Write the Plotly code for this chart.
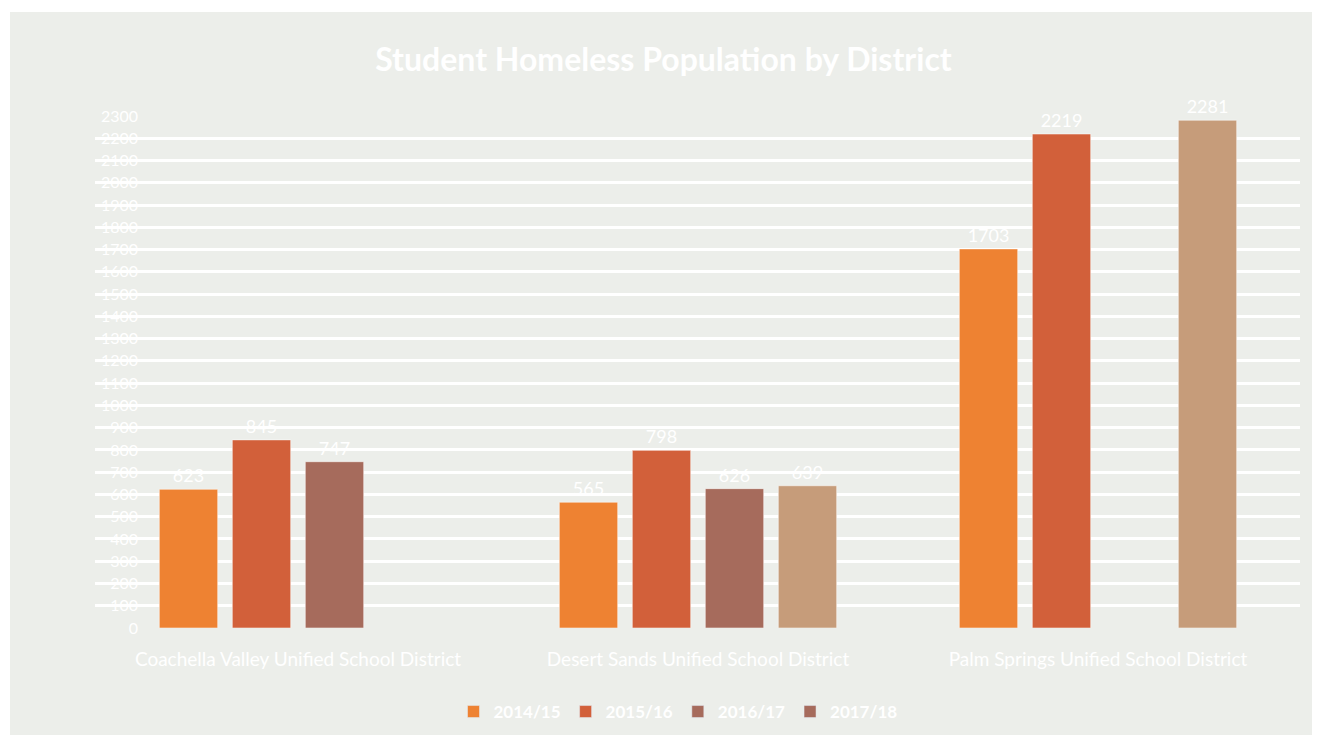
import plotly.graph_objects as go

districts = ["Coachella Valley Unified School District",
             "Desert Sands Unified School District",
             "Palm Springs Unified School District"]
years = ["2014/15", "2015/16", "2016/17", "2017/18"]
values = {
    "2014/15": [623, 565, 1703],
    "2015/16": [845, 798, 2219],
    "2016/17": [747, 626, None],
    "2017/18": [None, 639, 2281],
}
colors = ["#EE8232", "#D2603A", "#A66B5C", "#C69C7A"]
legend_colors = ["#EE8232", "#D2603A", "#A66B5C", "#A66B5C"]
y_ticks = list(range(0, 2301, 100))

FONT = "Lato, Open Sans, sans-serif"
fig = go.Figure()
for yr, c in zip(years, colors):
    fig.add_trace(go.Bar(
        x=districts, y=values[yr], name=yr, offsetgroup=yr,
        marker=dict(color=c, line=dict(color="rgba(255,255,255,0.5)", width=1)),
        text=[("" if v is None else str(v)) for v in values[yr]],
        textposition="outside", cliponaxis=False, constraintext="none",
        textfont=dict(color="white", size=18, family=FONT),
        showlegend=False,
    ))
# legend entries (share the offset group so they take no extra slot)
for yr, c in zip(years, legend_colors):
    fig.add_trace(go.Bar(x=[districts[0]], y=[None], name="<b>" + yr + "</b>",
                         offsetgroup=yr, marker_color=c, showlegend=True))

L, R, T, B = 95, 1300, 116, 628
W, H = 1205, 512
def px(xp): return (xp - L) / W
def py(yp): return (B - yp) / H

fig.update_layout(
    width=1327, height=746,
    margin=dict(l=L, r=1327 - R, t=T, b=746 - B),
    paper_bgcolor="white", plot_bgcolor="rgba(0,0,0,0)",
    barmode="group", bargap=0.27, bargroupgap=0.2,
    font=dict(family=FONT, color="white"),
    title=dict(text="<b>Student Homeless Population by District</b>",
               x=0.5, xanchor="center", y=1 - 60 / 746, yanchor="middle",
               font=dict(size=32, color="white", family=FONT)),
    legend=dict(orientation="h", x=px(678), xanchor="center", y=py(712), yanchor="middle",
                font=dict(size=17, color="white"), bgcolor="rgba(0,0,0,0)",
                traceorder="normal", itemwidth=30),
    shapes=[dict(type="rect", xref="paper", yref="paper", layer="below",
                 x0=px(10), x1=px(1312), y0=py(735), y1=py(12),
                 fillcolor="#ECEEEA", line=dict(width=0))],
)
fig.update_xaxes(range=[(L - 298) / 400, (R - 298) / 400], showgrid=False,
                 showline=False, ticks="", tickfont=dict(size=19, color="white"),
                 ticklabelstandoff=18)
fig.update_yaxes(range=[0, 2300], tickvals=y_ticks, showgrid=True,
                 gridcolor="white", gridwidth=3, zeroline=False, showline=False,
                 tickfont=dict(size=16, color="white"), ticklabelstandoff=-44)
fig.write_html("out.html")
